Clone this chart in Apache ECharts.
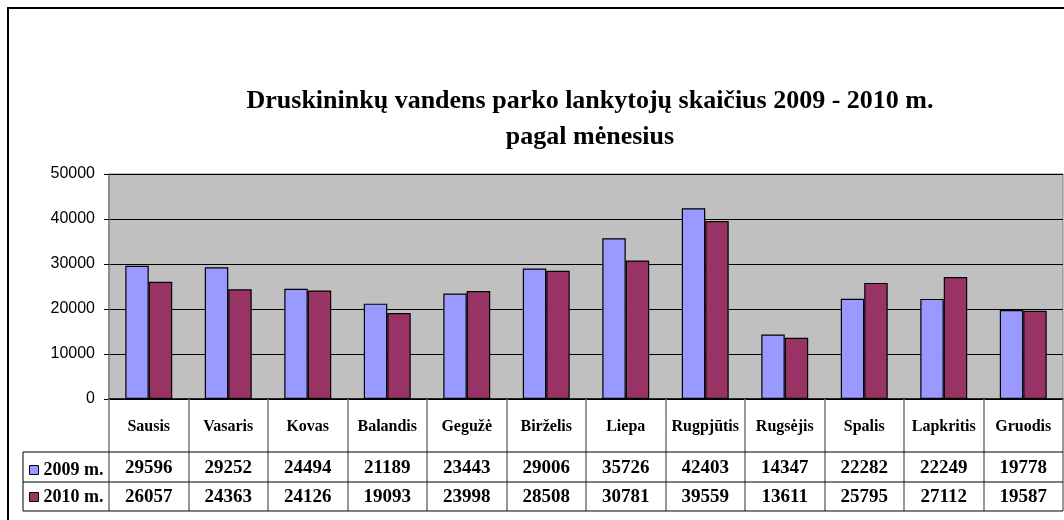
<!DOCTYPE html>
<html>
<head>
<meta charset="utf-8">
<script src="https://cdn.jsdelivr.net/npm/echarts@6/dist/echarts.min.js"></script>
<style>
  html, body { margin: 0; padding: 0; background: #fff; }
  #chart { width: 1064px; height: 520px; }
</style>
</head>
<body>
<div id="chart"></div>
<script>
const months = ['Sausis', 'Vasaris', 'Kovas', 'Balandis', 'Gegužė', 'Birželis',
  'Liepa', 'Rugpjūtis', 'Rugsėjis', 'Spalis', 'Lapkritis', 'Gruodis']
const visitors2009 = [29596, 29252, 24494, 21189, 23443, 29006, 35726, 42403, 14347, 22282, 22249, 19778]
const visitors2010 = [26057, 24363, 24126, 19093, 23998, 28508, 30781, 39559, 13611, 25795, 27112, 19587]
const seriesNames = ['2009 m.', '2010 m.']
const yTicks = [0, 10000, 20000, 30000, 40000, 50000]

const serif = "'Liberation Serif', 'Times New Roman', serif"
const sans = "'Liberation Sans', Arial, sans-serif"

// plot + data table geometry (px)
const plotLeft = 109
const plotRight = 1063
const plotTop = 174
const axisY = 399
const rowLines = [452, 482, 511]
const tableLeft = 23

const chart = echarts.init(document.getElementById('chart'))

const tableLines = rowLines.map((y) => ({
  type: 'line',
  shape: { x1: tableLeft, y1: y, x2: plotRight, y2: y },
  style: { stroke: '#000', lineWidth: 1 },
  z: 10
}))

chart.setOption({
  animation: false,
  color: ['#9999FF', '#993366'],
  title: {
    text: 'Druskininkų vandens parko lankytojų skaičius 2009 - 2010 m.\npagal mėnesius',
    left: 585,
    top: 78,
    textAlign: 'center',
    textStyle: {
      fontFamily: serif,
      fontWeight: 'bold',
      fontSize: 26,
      lineHeight: 36,
      color: '#000'
    }
  },
  legend: {
    data: seriesNames,
    orient: 'vertical',
    left: 24,
    top: 456,
    itemGap: 9,
    itemWidth: 9,
    itemHeight: 9,
    icon: 'rect',
    itemStyle: { borderColor: '#000', borderWidth: 1 },
    textStyle: { fontFamily: serif, fontWeight: 'bold', fontSize: 18, color: '#000' }
  },
  grid: {
    left: plotLeft,
    right: 1064 - plotRight,
    top: plotTop,
    bottom: 520 - axisY,
    show: true,
    backgroundColor: '#C0C0C0',
    borderColor: '#808080',
    borderWidth: 1
  },
  xAxis: {
    type: 'category',
    data: months,
    axisLine: { lineStyle: { color: '#000', width: 1.5 } },
    axisTick: {
      show: true,
      interval: 0,
      alignWithLabel: false,
      length: rowLines[2] - axisY,
      lineStyle: { color: '#777', width: 1.5 }
    },
    axisLabel: {
      interval: 0,
      margin: 1,
      verticalAlign: 'top',
      formatter: (value, index) =>
        `{m|${value}}\n{v|${visitors2009[index]}}\n{v|${visitors2010[index]}}`,
      rich: {
        m: { fontFamily: serif, fontWeight: 'bold', fontSize: 16, lineHeight: 54, color: '#000' },
        v: { fontFamily: serif, fontWeight: 'bold', fontSize: 19, lineHeight: 29, color: '#000' }
      }
    }
  },
  yAxis: {
    type: 'value',
    min: yTicks[0],
    max: yTicks[yTicks.length - 1],
    interval: 10000,
    axisLine: { show: true, lineStyle: { color: '#808080', width: 1.5 } },
    axisTick: { show: true, length: 5, lineStyle: { color: '#000' } },
    axisLabel: {
      margin: 14,
      fontFamily: sans,
      fontSize: 16,
      color: '#000',
      formatter: (v) => String(v)
    },
    splitLine: { lineStyle: { color: '#000', width: 1 } }
  },
  series: [
    {
      name: seriesNames[0],
      type: 'bar',
      data: visitors2009,
      barGap: '0%',
      barCategoryGap: '41%',
      itemStyle: { borderColor: '#000', borderWidth: 1.2 }
    },
    {
      name: seriesNames[1],
      type: 'bar',
      data: visitors2010,
      barGap: '0%',
      barCategoryGap: '41%',
      itemStyle: { borderColor: '#000', borderWidth: 1.2 }
    }
  ],
  graphic: [
    {
      type: 'rect',
      shape: { x: 8, y: 8, width: 1100, height: 600 },
      style: { fill: 'none', stroke: '#000', lineWidth: 2 },
      z: 10
    },
    ...tableLines,
    {
      type: 'line',
      shape: { x1: tableLeft, y1: rowLines[0], x2: tableLeft, y2: rowLines[2] },
      style: { stroke: '#000', lineWidth: 1 },
      z: 10
    }
  ]
})
</script>
</body>
</html>
